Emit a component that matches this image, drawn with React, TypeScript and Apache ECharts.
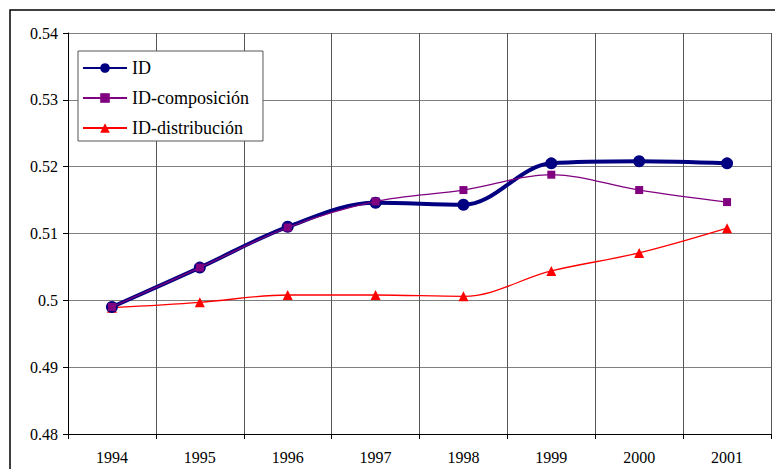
import React, { useEffect, useRef } from "react";
import * as echarts from "echarts";

const years = ["1994", "1995", "1996", "1997", "1998", "1999", "2000", "2001"];
const idValues = [0.499, 0.5049, 0.511, 0.5146, 0.5143, 0.5205, 0.5208, 0.5205];
const compValues = [0.499, 0.5049, 0.5109, 0.5148, 0.5165, 0.5188, 0.5165, 0.5147];
const distValues = [0.4989, 0.4997, 0.5008, 0.5008, 0.5006, 0.5044, 0.5071, 0.5108];

const FONT = "serif";

export default function App() {
  const ref = useRef<HTMLDivElement>(null);
  useEffect(() => {
    if (!ref.current) return;
    const chart = echarts.init(ref.current, null, { renderer: "svg" });
    chart.setOption({
      animation: false,
      backgroundColor: "#ffffff",
      textStyle: { fontFamily: FONT, fontSize: 16 },
      graphic: [
        {
          type: "rect",
          shape: { x: 10, y: 10, width: 800, height: 500 },
          style: { fill: "none", stroke: "#000", lineWidth: 1.5 },
          silent: true,
          z: 0,
        },
      ],
      grid: { left: 68, right: 4, top: 33, bottom: 35, containLabel: false },
      legend: {
        orient: "vertical",
        left: 78,
        top: 51,
        padding: [8, 14, 4, 4],
        itemGap: 12,
        itemWidth: 44,
        itemHeight: 12,
        backgroundColor: "#fff",
        borderColor: "#555",
        borderWidth: 1,
        textStyle: { fontFamily: FONT, fontSize: 18, color: "#000" },
        data: ["ID", "ID-composición", "ID-distribución"],
      },
      xAxis: {
        type: "category",
        data: years,
        boundaryGap: true,
        axisLine: { lineStyle: { color: "#000", width: 1 } },
        axisTick: { show: true, length: 5, lineStyle: { color: "#000" } },
        axisLabel: { fontFamily: FONT, fontSize: 16, color: "#000", margin: 15 },
        splitLine: { show: true, lineStyle: { color: "#555", width: 1 } },
      },
      yAxis: {
        type: "value",
        min: 0.48,
        max: 0.54,
        interval: 0.01,
        axisLine: { show: true, lineStyle: { color: "#000", width: 1 } },
        axisTick: { show: true, length: 5, lineStyle: { color: "#000" } },
        axisLabel: { fontFamily: FONT, fontSize: 16, color: "#000", margin: 10 },
        splitLine: { show: true, lineStyle: { color: "#808080", width: 1 } },
      },
      series: [
        {
          name: "ID-distribución",
          type: "line",
          data: distValues,
          smooth: 0.35,
          symbol: "triangle",
          symbolSize: 10,
          lineStyle: { color: "#ff0000", width: 1.3 },
          itemStyle: { color: "#ff0000" },
          z: 3,
        },
        {
          name: "ID",
          type: "line",
          data: idValues,
          smooth: 0.35,
          symbol: "circle",
          symbolSize: 12,
          lineStyle: { color: "#000080", width: 4 },
          itemStyle: { color: "#000080" },
          z: 4,
        },
        {
          name: "ID-composición",
          type: "line",
          data: compValues,
          smooth: 0.35,
          symbol: "rect",
          symbolSize: 8,
          lineStyle: { color: "#800080", width: 1.3 },
          itemStyle: { color: "#800080" },
          z: 5,
        },
      ],
    });
    return () => chart.dispose();
  }, []);
  return (
    <div
      ref={ref}
      style={{ position: "fixed", left: 0, top: 0, width: 775, height: 469 }}
    />
  );
}
